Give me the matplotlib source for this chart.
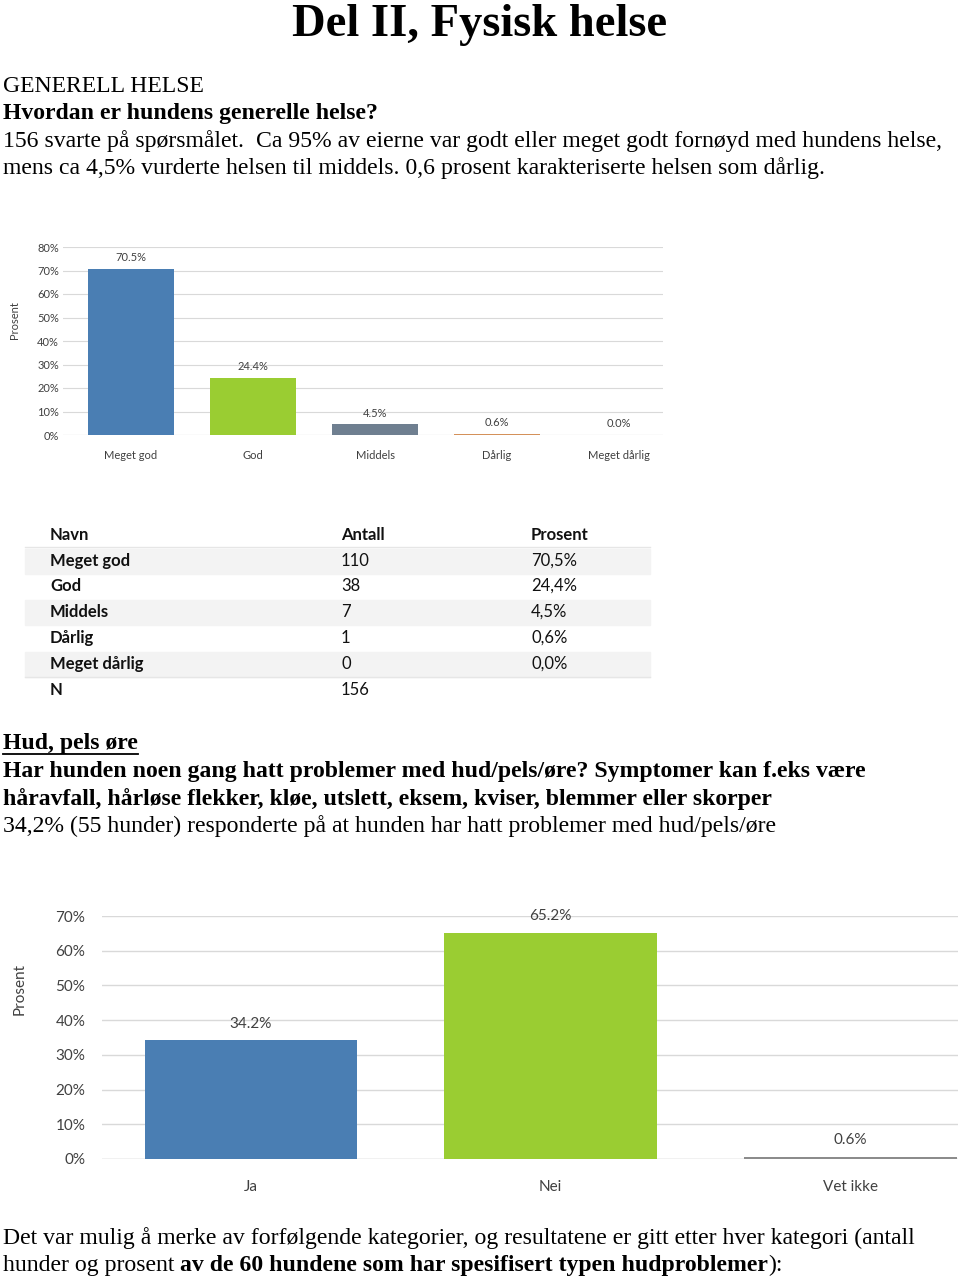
import matplotlib.pyplot as plt
from matplotlib.patches import Rectangle

# --- data ---
helse_kat = ["Meget god", "God", "Middels", "Dårlig", "Meget dårlig"]
helse_pst = [70.5, 24.4, 4.5, 0.6, 0.0]
helse_antall = [110, 38, 7, 1, 0]
helse_n = 156
helse_farger = ["#4a7eb3", "#9acd32", "#6f7f90", "#d4915a", "#999999"]

hud_kat = ["Ja", "Nei", "Vet ikke"]
hud_pst = [34.2, 65.2, 0.6]
hud_farger = ["#4a7eb3", "#9acd32", "#8c8c8c"]

W, H = 960, 1280
SERIF = "Liberation Serif"
SANS = "Lato"
GRA = "#404040"
BODY = 17.1

fig = plt.figure(figsize=(W / 100, H / 100), dpi=100)


def fy(y):
    return 1 - y / H


def tekst(x, y, s, **kw):
    kw.setdefault("family", SERIF)
    kw.setdefault("fontsize", BODY)
    kw.setdefault("va", "center")
    return fig.text(x / W, fy(y), s, **kw)


def pst_fmt(v):
    return f"{v:.1f}%"


# --- tekst øverst ---
tekst(480, 36, "Del II, Fysisk helse", fontsize=33.5, weight="bold", ha="center", va="baseline")
tekst(3, 87, "GENERELL HELSE")
tekst(3, 114, "Hvordan er hundens generelle helse?", weight="bold")
tekst(3, 141, "156 svarte på spørsmålet.  Ca 95% av eierne var godt eller meget godt fornøyd med hundens helse,")
tekst(3, 168, "mens ca 4,5% vurderte helsen til middels. 0,6 prosent karakteriserte helsen som dårlig.")

# --- diagram 1 ---
ax1 = fig.add_axes([63 / W, fy(435), 600 / W, (435 - 247) / H])
x1 = range(len(helse_kat))
ax1.bar(x1, helse_pst, width=0.71, color=helse_farger, zorder=3)
for i, v in enumerate(helse_pst):
    ax1.text(i, v + 2.5, pst_fmt(v), ha="center", va="bottom", fontsize=8, color=GRA, family=SANS)
ax1.set_xlim(-0.557, 4.36)
ax1.set_ylim(0, 80)
ax1.set_yticks(range(0, 81, 10))
ax1.set_yticklabels([f"{t}%" for t in range(0, 81, 10)])
ax1.set_xticks(list(x1))
ax1.set_xticklabels(helse_kat)
ax1.tick_params(length=0, labelsize=8, labelcolor=GRA)
ax1.tick_params(axis="x", pad=11)
ax1.tick_params(axis="y", pad=3)
for lbl in ax1.get_xticklabels() + ax1.get_yticklabels():
    lbl.set_family(SANS)
ax1.grid(axis="y", color="#d9d9d9", lw=0.8, zorder=0)
for s in ax1.spines.values():
    s.set_visible(False)
ax1.axhline(0, color="#d9d9d9", lw=0.8, zorder=2)
ax1.set_ylabel("Prosent", fontsize=8, color=GRA, family=SANS)
ax1.yaxis.set_label_coords(-0.072, 0.61)

# --- tabell ---
rad_y = [535, 561, 586, 612, 638, 664, 690]
for k in (1, 3, 5):
    fig.patches.append(Rectangle((25 / W, fy(rad_y[k] + 12.5)), 625 / W, 25 / H,
                                 transform=fig.transFigure, color="#f3f3f3", zorder=0))
for yy in (547, 677):
    fig.add_artist(plt.Line2D([25 / W, 650 / W], [fy(yy), fy(yy)], color="#e6e6e6", lw=1))
tk = dict(family=SANS, fontsize=12, color="#111111")
tekst(50, rad_y[0], "Navn", weight="bold", **tk)
tekst(341, rad_y[0], "Antall", weight="bold", **tk)
tekst(531, rad_y[0], "Prosent", weight="bold", **tk)
for k, navn in enumerate(helse_kat):
    y = rad_y[k + 1]
    tekst(50, y, navn, weight="bold", **tk)
    tekst(341, y, str(helse_antall[k]), **tk)
    tekst(531, y, pst_fmt(helse_pst[k]).replace(".", ","), **tk)
tekst(50, rad_y[6], "N", weight="bold", **tk)
tekst(341, rad_y[6], str(helse_n), **tk)

r = fig.canvas.get_renderer()

# --- seksjon hud ---
th = tekst(3, 744, "Hud, pels øre", weight="bold")
x_end = th.get_window_extent(r).x1
fig.add_artist(plt.Line2D([3 / W, x_end / W], [fy(754), fy(754)], color="black", lw=1.3))
tekst(3, 772, "Har hunden noen gang hatt problemer med hud/pels/øre? Symptomer kan f.eks være", weight="bold")
tekst(3, 799, "håravfall, hårløse flekker, kløe, utslett, eksem, kviser, blemmer eller skorper", weight="bold")
tekst(3, 826, "34,2% (55 hunder) responderte på at hunden har hatt problemer med hud/pels/øre")

# --- diagram 2 ---
ax2 = fig.add_axes([102 / W, fy(1159), 856 / W, (1159 - 916) / H])
x2 = range(len(hud_kat))
ax2.bar(x2, hud_pst, width=0.71, color=hud_farger, zorder=3)
for i, v in enumerate(hud_pst):
    ax2.text(i, v + 2.8, pst_fmt(v), ha="center", va="bottom", fontsize=11, color=GRA, family=SANS)
ax2.set_xlim(-0.497, 2.36)
ax2.set_ylim(0, 70)
ax2.set_yticks(range(0, 71, 10))
ax2.set_yticklabels([f"{t}%" for t in range(0, 71, 10)])
ax2.set_xticks(list(x2))
ax2.set_xticklabels(hud_kat)
ax2.tick_params(length=0, labelsize=11, labelcolor=GRA)
ax2.tick_params(axis="x", pad=15)
ax2.tick_params(axis="y", pad=12)
for lbl in ax2.get_xticklabels() + ax2.get_yticklabels():
    lbl.set_family(SANS)
ax2.grid(axis="y", color="#d9d9d9", lw=1, zorder=0)
for s in ax2.spines.values():
    s.set_visible(False)
ax2.axhline(0, color="#d9d9d9", lw=1, zorder=2)
ax2.set_ylabel("Prosent", fontsize=11, color=GRA, family=SANS)
ax2.yaxis.set_label_coords(-0.088, 0.70)

# --- tekst nederst ---
tekst(3, 1238, "Det var mulig å merke av forfølgende kategorier, og resultatene er gitt etter hver kategori (antall")
t1 = tekst(3, 1265, "hunder og prosent ")
x_b = t1.get_window_extent(r).x1
t2 = tekst(x_b, 1265, "av de 60 hundene som har spesifisert typen hudproblemer", weight="bold")
x_c = t2.get_window_extent(r).x1
tekst(x_c, 1265, "):")

fig.savefig("out.png", dpi=100)
